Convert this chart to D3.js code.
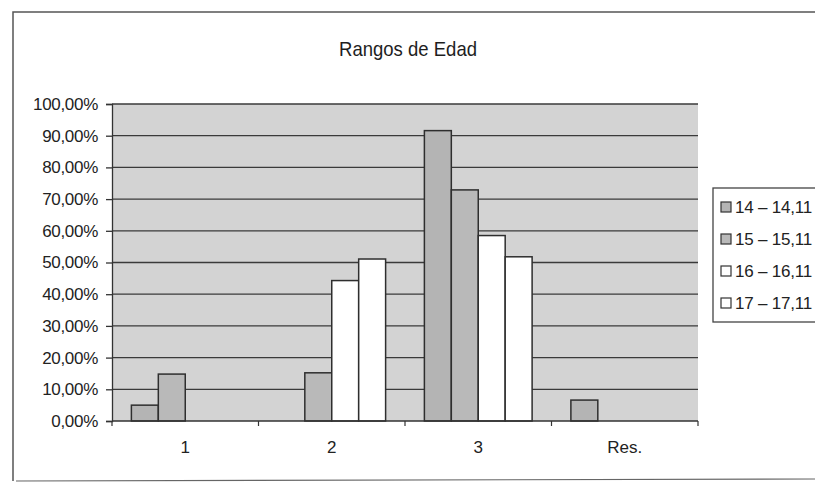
<!DOCTYPE html>
<html>
<head>
<meta charset="utf-8">
<script src="https://cdn.jsdelivr.net/npm/d3@7/dist/d3.min.js"></script>
<style>
  html, body { margin: 0; padding: 0; background: #fff; overflow: hidden; }
  svg { display: block; font-family: "Liberation Sans", Arial, sans-serif; }
</style>
</head>
<body>
<svg id="chart" width="815" height="484"></svg>
<script>
// Age-range groups on the x axis
const categories = ["1", "2", "3", "Res."];
// Legend / series names
const seriesNames = ["14 – 14,11", "15 – 15,11", "16 – 16,11", "17 – 17,11"];
// Share per series, one value per category (fractions of 1)
const s14 = [0.050, 0.000, 0.916, 0.066];
const s15 = [0.148, 0.152, 0.729, 0.000];
const s16 = [0.000, 0.443, 0.585, 0.000];
const s17 = [0.000, 0.511, 0.518, 0.000];
// Y tick values
const yTicks = [0, 0.1, 0.2, 0.3, 0.4, 0.5, 0.6, 0.7, 0.8, 0.9, 1.0];

const seriesValues = [s14, s15, s16, s17];
const seriesFill = ["#b4b4b4", "#b9b9b9", "#ffffff", "#ffffff"];

const svg = d3.select("#chart");
const plot = { left: 112, right: 698, top: 104, bottom: 421 };

// outer chart frame
svg.append("path")
  .attr("d", "M13,481 L13,12 L815,12")
  .attr("fill", "none").attr("stroke", "#555").attr("stroke-width", 1.5);
svg.append("line").attr("x1", 16).attr("x2", 815).attr("y1", 481).attr("y2", 479)
  .attr("stroke", "#666").attr("stroke-width", 1.2);

// title
svg.append("text").attr("x", 408).attr("y", 56).attr("text-anchor", "middle")
  .attr("font-size", 21).attr("fill", "#1e1e1e")
  .attr("textLength", 138).attr("lengthAdjust", "spacingAndGlyphs")
  .text("Rangos de Edad");

const x0 = d3.scaleBand().domain(categories).range([plot.left, plot.right]).padding(0);
const x1 = d3.scaleBand().domain(d3.range(seriesNames.length))
  .range([0, x0.bandwidth()]).paddingInner(0).paddingOuter(0.72);
const y = d3.scaleLinear().domain([0, 1]).range([plot.bottom, plot.top]);

// plot area
svg.append("rect").attr("x", plot.left).attr("y", plot.top)
  .attr("width", plot.right - plot.left).attr("height", plot.bottom - plot.top)
  .attr("fill", "#d3d3d3");

// gridlines
svg.append("g").selectAll("line").data(yTicks.slice(1)).join("line")
  .attr("x1", plot.left).attr("x2", plot.right)
  .attr("y1", d => y(d)).attr("y2", d => y(d))
  .attr("stroke", "#3a3a3a").attr("stroke-width", 1.3);

// bars
categories.forEach((cat, ci) => {
  seriesValues.forEach((vals, si) => {
    const v = vals[ci];
    if (v <= 0) return;
    svg.append("rect")
      .attr("x", x0(cat) + x1(si))
      .attr("y", y(v))
      .attr("width", x1.bandwidth())
      .attr("height", y(0) - y(v))
      .attr("fill", seriesFill[si])
      .attr("stroke", "#2e2e2e").attr("stroke-width", 1.5);
  });
});

// y axis
const yAxis = d3.axisLeft(y).tickValues(yTicks).tickSize(6).tickPadding(8)
  .tickFormat(d => d3.format(".2f")(d * 100).replace(".", ",") + "%");
const gy = svg.append("g").attr("transform", `translate(${plot.left},0)`).call(yAxis);
gy.select(".domain").attr("stroke", "#333").attr("stroke-width", 1.3);
gy.selectAll(".tick line").attr("stroke", "#333").attr("stroke-width", 1.3);
gy.selectAll(".tick text").attr("font-size", 17).attr("fill", "#222")
  .attr("font-family", "'Liberation Sans', Arial, sans-serif").attr("letter-spacing", -0.3);

// x axis: ticks between categories, labels centred in each band
const gx = svg.append("g").attr("transform", `translate(0,${plot.bottom})`);
gx.append("line").attr("x1", plot.left).attr("x2", plot.right)
  .attr("stroke", "#333").attr("stroke-width", 1.3);
const boundaries = categories.map(c => x0(c)).concat([plot.right]);
gx.selectAll("line.tk").data(boundaries).join("line").attr("class", "tk")
  .attr("x1", d => d).attr("x2", d => d).attr("y1", 0).attr("y2", 5)
  .attr("stroke", "#333").attr("stroke-width", 1.2);
gx.selectAll("text").data(categories).join("text")
  .attr("x", d => x0(d) + x0.bandwidth() / 2).attr("y", 32)
  .attr("text-anchor", "middle").attr("font-size", 17).attr("fill", "#222")
  .text(d => d);

// legend
const lg = svg.append("g");
lg.append("rect").attr("x", 713).attr("y", 188).attr("width", 130).attr("height", 134)
  .attr("fill", "#fff").attr("stroke", "#444").attr("stroke-width", 1.3);
const ly = d3.scalePoint().domain(d3.range(seriesNames.length)).range([207, 303]);
seriesNames.forEach((name, i) => {
  lg.append("rect").attr("x", 721).attr("y", ly(i) - 5).attr("width", 10).attr("height", 10)
    .attr("fill", seriesFill[i]).attr("stroke", "#333").attr("stroke-width", 1.2);
  lg.append("text").attr("x", 735).attr("y", ly(i) + 6).attr("font-size", 17)
    .attr("fill", "#222").attr("letter-spacing", -0.2).text(name);
});
</script>
</body>
</html>
